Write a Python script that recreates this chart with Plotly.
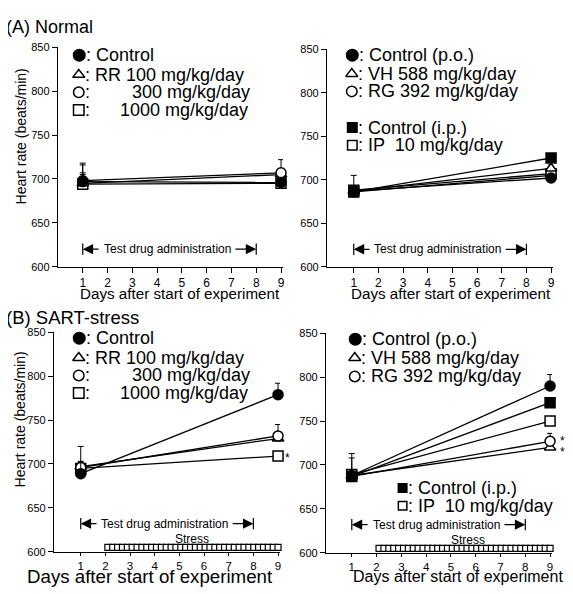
import plotly.graph_objects as go
import numpy as np

W, H = 573, 594
OFF = 8  # default page body margin of the browser
FW, FH = W - OFF, H - OFF
FONT = "Liberation Sans, Arial, Helvetica, sans-serif"

days = [1, 9]
day_ticks = [1, 2, 3, 4, 5, 6, 7, 8, 9]
hr_ticks = [600, 650, 700, 750, 800, 850]

# ---------- (A) Normal, left: RR ----------
a_rr_ctrl = [697, 696];  a_rr_ctrl_se = [8, 3]
a_rr_100 = [695, 705];   a_rr_100_se = [23, 17]
a_rr_300 = [698, 707];   a_rr_300_se = [18, 5]
a_rr_1000 = [694, 695];  a_rr_1000_se = [13, 4]

# ---------- (A) Normal, right: VH / RG / IP ----------
a_ctrl_po = [687, 702];  a_ctrl_po_se = [18, 4]
a_vh588 = [687, 713];    a_vh588_se = [5, 4]
a_rg392 = [686, 705];    a_rg392_se = [5, 4]
a_ctrl_ip = [686, 725];  a_ctrl_ip_se = [5, 5]
a_ip10 = [688, 707];     a_ip10_se = [5, 4]

# ---------- (B) SART-stress, left: RR ----------
b_rr_ctrl = [689, 779];  b_rr_ctrl_se = [31, 13]
b_rr_100 = [697, 729];   b_rr_100_se = [6, 16]
b_rr_300 = [696, 732];   b_rr_300_se = [6, 5]
b_rr_1000 = [695, 709];  b_rr_1000_se = [5, 4]

# ---------- (B) SART-stress, right: VH / RG / IP ----------
b_ctrl_po = [688, 790];  b_ctrl_po_se = [25, 13]
b_vh588 = [688, 720];    b_vh588_se = [20, 5]
b_rg392 = [687, 727];    b_rg392_se = [5, 9]
b_ctrl_ip = [687, 771];  b_ctrl_ip_se = [5, 5]
b_ip10 = [689, 750];     b_ip10_se = [5, 4]

# significance marks: (day, label height)
b_sig_left = [(9, 709)]
b_sig_right = [(9, 730), (9, 717)]

# drug administration period and stress period
drug_start, drug_end = 1, 8
stress_start, stress_end, stress_sessions = 2.1, 9.0, 36

# panel geometry in reference pixels: axis left, day1, day9, axis right, top(850), bottom(600)
geo = {
    1: dict(x0=58, d1=83, d9=282, xr=284, t=42, b=266),
    2: dict(x0=328, d1=355, d9=553, xr=555, t=44, b=266),
    3: dict(x0=54, d1=81, d9=279, xr=281, t=333, b=557),
    4: dict(x0=327, d1=353, d9=552, xr=554, t=334, b=558),
}


def PX(px):
    return (px - OFF) / FW


def PY(py):
    return 1 - (py - OFF) / FH


fig = go.Figure()
layout = dict(
    width=FW, height=FH, margin=dict(l=0, r=0, t=0, b=0, pad=0),
    paper_bgcolor="white", plot_bgcolor="rgba(0,0,0,0)", showlegend=False,
    font=dict(family=FONT, color="black"),
)

for i, g in geo.items():
    ppd = (g["d9"] - g["d1"]) / 8.0
    xmin = 1 - (g["d1"] - g["x0"]) / ppd
    xmax = 9 + (g["xr"] - g["d9"]) / ppd
    sfx = "" if i == 1 else str(i)
    layout["xaxis" + sfx] = dict(
        domain=[PX(g["x0"]), PX(g["xr"])], range=[xmin, xmax],
        anchor="y" + sfx, tickvals=day_ticks, ticks="outside",
        ticklen=5 if i <= 2 else 3,
        tickcolor="black", tickwidth=1, showline=True, linecolor="black",
        linewidth=1, showgrid=False, zeroline=False,
        tickfont=dict(size=12 if i <= 2 else 11.5, family=FONT, color="black"),
    )
    layout["yaxis" + sfx] = dict(
        domain=[PY(g["b"]), PY(g["t"])], range=[600, 850],
        anchor="x" + sfx, tickvals=hr_ticks, ticks="outside", ticklen=5,
        tickcolor="black", tickwidth=1, showline=True, linecolor="black",
        linewidth=1, showgrid=False, zeroline=False,
        tickfont=dict(size=11, family=FONT, color="black"),
    )

# overlay axes in reference-pixel units, for legend glyphs
layout["xaxis5"] = dict(domain=[0, 1], range=[OFF, W], visible=False, fixedrange=True)
layout["yaxis5"] = dict(domain=[0, 1], range=[H, OFF], visible=False, fixedrange=True,
                        anchor="x5")

fig.update_layout(**layout)


def add_series(panel, y, se, symbol, filled):
    sfx = "" if panel == 1 else str(panel)
    fig.add_trace(go.Scatter(
        x=days, y=y, mode="lines+markers",
        xaxis="x" + sfx, yaxis="y" + sfx, cliponaxis=False,
        line=dict(color="black", width=1.3),
        marker=dict(symbol=symbol, size=10,
                    color="black" if filled else "white",
                    line=dict(color="black", width=1.5)),
        error_y=dict(type="data", symmetric=False, array=se, arrayminus=[0, 0],
                     color="black", thickness=1, width=3),
    ))


# panel 1
add_series(1, a_rr_1000, a_rr_1000_se, "square", False)
add_series(1, a_rr_100, a_rr_100_se, "triangle-up", False)
add_series(1, a_rr_300, a_rr_300_se, "circle", False)
add_series(1, a_rr_ctrl, a_rr_ctrl_se, "circle", True)
# panel 2
add_series(2, a_rg392, a_rg392_se, "circle", False)
add_series(2, a_ip10, a_ip10_se, "square", False)
add_series(2, a_vh588, a_vh588_se, "triangle-up", False)
add_series(2, a_ctrl_po, a_ctrl_po_se, "circle", True)
add_series(2, a_ctrl_ip, a_ctrl_ip_se, "square", True)
# panel 3
add_series(3, b_rr_1000, b_rr_1000_se, "square", False)
add_series(3, b_rr_100, b_rr_100_se, "triangle-up", False)
add_series(3, b_rr_300, b_rr_300_se, "circle", False)
add_series(3, b_rr_ctrl, b_rr_ctrl_se, "circle", True)
# panel 4
add_series(4, b_vh588, b_vh588_se, "triangle-up", False)
add_series(4, b_rg392, b_rg392_se, "circle", False)
add_series(4, b_ip10, b_ip10_se, "square", False)
add_series(4, b_ctrl_ip, b_ctrl_ip_se, "square", True)
add_series(4, b_ctrl_po, b_ctrl_po_se, "circle", True)

# stress strip (panels 3 & 4)
stress_x = np.linspace(stress_start, stress_end, stress_sessions)
for p in (3, 4):
    fig.add_trace(go.Scatter(
        x=stress_x, y=[605] * len(stress_x), mode="markers",
        xaxis="x" + str(p), yaxis="y" + str(p), cliponaxis=False,
        marker=dict(symbol="square", size=6, color="white",
                    line=dict(color="black", width=1.2)),
        hoverinfo="skip",
    ))

ann = []
shapes = []

# legend glyphs: (x, y, symbol, filled, size)
glyphs = []


def text_px(px, py, txt, size=18, xanchor="left", angle=0):
    ann.append(dict(x=PX(px), y=PY(py), xref="paper", yref="paper", text=txt,
                    showarrow=False, xanchor=xanchor, yanchor="middle",
                    textangle=angle, font=dict(size=size, family=FONT, color="black")))


def legend_line(px, py, symbol, filled, label, gsize=12):
    glyphs.append((px + gsize / 2, py, symbol, filled, gsize))
    text_px(px + gsize - 2, py, label)


# panel titles
text_px(4, 21, "(A) Normal", 18)
text_px(4, 318, "(B) SART-stress", 18.5)

# y titles
text_px(21, 133, "Heart rate (beats/min)", 14, "center", -90)
text_px(20, 422, "Heart rate (beats/min)", 14, "center", -90)

# x titles
text_px(181, 293, "Days after start of experiment", 15.2, "center")
text_px(453, 293, "Days after start of experiment", 15.2, "center")
text_px(151, 582, "Days after start of experiment", 18.7, "center")
text_px(460, 582, "Days after start of experiment", 16, "center")

# legends, left panels
for ys in ([50, 70, 88, 106], [339, 359, 377, 395]):
    legend_line(73, ys[0], "circle", True, ": Control", 13)
    legend_line(73, ys[1], "triangle-up", False, ": RR 100 mg/kg/day", 12)
    legend_line(73, ys[2], "circle", False, ":", 12)
    text_px(253, ys[2], "300 mg/kg/day", xanchor="right")
    legend_line(73, ys[3], "square", False, ":", 12)
    text_px(251, ys[3], "1000 mg/kg/day", xanchor="right")

# legends, right panels
legend_line(347, 50, "circle", True, ": Control (p.o.)", 13)
legend_line(347, 69, "triangle-up", False, ": VH 588 mg/kg/day", 12)
legend_line(347, 87, "circle", False, ": RG 392 mg/kg/day", 12)
legend_line(348, 124, "square", True, ": Control (i.p.)", 11)
legend_line(348, 142, "square", False, ": IP  10 mg/kg/day", 11)

legend_line(350, 340, "circle", True, ": Control (p.o.)", 13)
legend_line(350, 359, "triangle-up", False, ": VH 588 mg/kg/day", 12)
legend_line(350, 378, "circle", False, ": RG 392 mg/kg/day", 12)
legend_line(399, 492, "square", True, ": Control (i.p.)", 10)
legend_line(399, 510, "square", False, ": IP  10 mg/kg/day", 10)

for gx, gy, sym, filled, gs in glyphs:
    fig.add_trace(go.Scatter(
        x=[gx], y=[gy], mode="markers", xaxis="x5", yaxis="y5",
        cliponaxis=False, hoverinfo="skip",
        marker=dict(symbol=sym, size=gs - 1.5, color="black" if filled else "white",
                    line=dict(color="black", width=1.5)),
    ))

# drug administration brackets
for p, yb in [(1, 620), (2, 620), (3, 632), (4, 632)]:
    sfx = "" if p == 1 else str(p)
    xr, yr = "x" + sfx, "y" + sfx
    for xv in (drug_start, drug_end):
        shapes.append(dict(type="line", xref=xr, yref=yr, x0=xv, x1=xv,
                           y0=yb - 6.5, y1=yb + 6.5, line=dict(color="black", width=1.2)))
    ann.append(dict(x=drug_start, y=yb, ax=drug_start + 0.7, ay=yb, xref=xr, yref=yr,
                    axref=xr, ayref=yr, showarrow=True, arrowhead=2, arrowsize=1.6,
                    arrowwidth=1.3, arrowcolor="black", text=""))
    ann.append(dict(x=drug_end, y=yb, ax=drug_end - 0.9, ay=yb, xref=xr, yref=yr,
                    axref=xr, ayref=yr, showarrow=True, arrowhead=2, arrowsize=1.6,
                    arrowwidth=1.3, arrowcolor="black", text=""))
    ann.append(dict(x=(drug_start + 0.7 + drug_end - 0.9) / 2, y=yb, xref=xr, yref=yr,
                    text="Test drug administration", showarrow=False,
                    xanchor="center", yanchor="middle",
                    font=dict(size=12, family=FONT, color="black")))

# stress labels
for p, xs in [(3, 5.5), (4, 5.7)]:
    ann.append(dict(x=xs, y=615, xref="x" + str(p), yref="y" + str(p), text="Stress",
                    showarrow=False, font=dict(size=12, family=FONT, color="black")))

# asterisks
for p, marks, shift in [(3, b_sig_left, 9), (4, b_sig_right, 12)]:
    for d, v in marks:
        ann.append(dict(x=d, y=v, xref="x" + str(p), yref="y" + str(p), text="*",
                        showarrow=False, xshift=shift, yshift=-2,
                        font=dict(size=12, family=FONT, color="black")))

fig.update_layout(annotations=ann, shapes=shapes)
fig.write_html("out.html")
